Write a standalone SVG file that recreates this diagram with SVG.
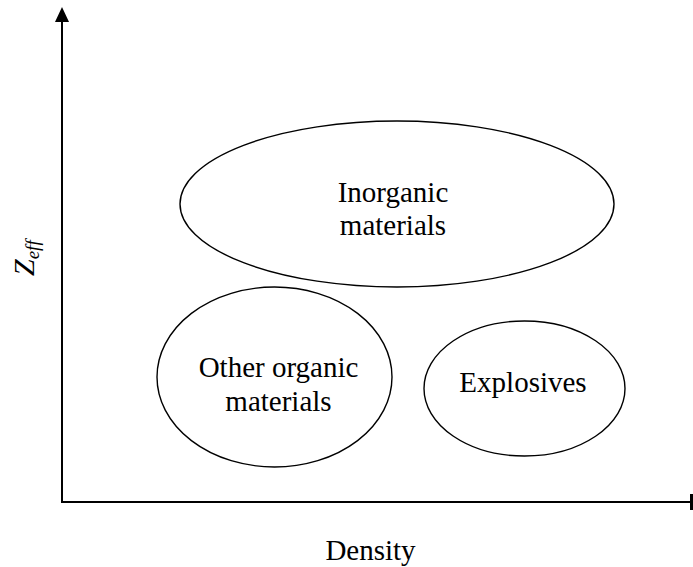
<svg xmlns="http://www.w3.org/2000/svg" width="693" height="567" viewBox="0 0 693 567">
<style>
.lbl{font-family:"Liberation Serif","Times New Roman",serif;font-size:29px;fill:#000;text-anchor:middle}
.node ellipse{fill:none;stroke:#000;stroke-width:1.4}
.axis{stroke:#000;stroke-width:2;fill:none}
</style>
<rect width="693" height="567" fill="#fff"/>
<g id="connectors">
<line class="axis" x1="62" y1="502" x2="62" y2="20"/>
<polygon points="62,7 55,22 69,22" fill="#000"/>
<line class="axis" x1="61" y1="502" x2="691" y2="502"/>
<line x1="691.5" y1="494" x2="691.5" y2="510" stroke="#000" stroke-width="3"/>
</g>
<g id="node-inorganic" class="node">
<ellipse cx="397" cy="204" rx="217" ry="83"/>
<text class="lbl" x="393" y="202">Inorganic</text>
<text class="lbl" x="393" y="235">materials</text>
</g>
<g id="node-organic" class="node">
<ellipse cx="274.5" cy="377" rx="117.5" ry="90"/>
<text class="lbl" x="278.5" y="377">Other organic</text>
<text class="lbl" x="278.5" y="411">materials</text>
</g>
<g id="node-explosives" class="node">
<ellipse cx="524.5" cy="388.5" rx="100.5" ry="67.5"/>
<text class="lbl" x="523" y="392">Explosives</text>
</g>
<g id="axis-labels">
<text class="lbl" x="370.5" y="560">Density</text>
<text transform="translate(34,276) rotate(-90)" style="font-family:'Liberation Serif','Times New Roman',serif;font-size:30px;font-style:italic">Z<tspan font-size="19" dy="5">eff</tspan></text>
</g>
</svg>
